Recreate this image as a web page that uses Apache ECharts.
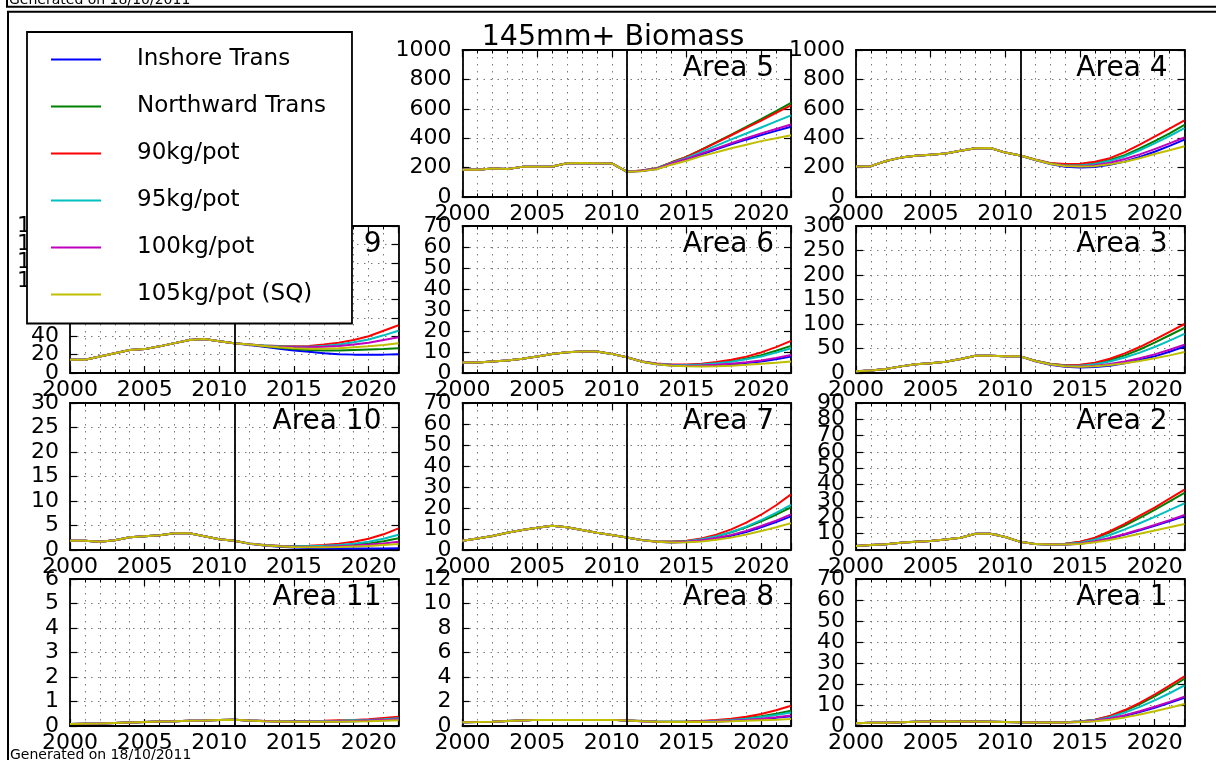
<!DOCTYPE html>
<html>
<head>
<meta charset="utf-8">
<title>145mm+ Biomass</title>
<script src="https://cdn.jsdelivr.net/npm/echarts@6/dist/echarts.min.js"></script>
<style>
  html, body { margin: 0; padding: 0; background: #ffffff; }
  #chart { width: 1216px; height: 760px; }
</style>
</head>
<body>
<div id="chart"></div>
<script>
// ---- data -------------------------------------------------------------
const years = [2000, 2001, 2002, 2003, 2004, 2005, 2006, 2007, 2008, 2009, 2010, 2011,
               2012, 2013, 2014, 2015, 2016, 2017, 2018, 2019, 2020, 2021, 2022];
const projectionStart = 2011;
const xTickLabels = [2000, 2005, 2010, 2015, 2020];

const seriesNames = ['Inshore Trans', 'Northward Trans', '90kg/pot', '95kg/pot', '100kg/pot', '105kg/pot (SQ)'];
const seriesColors = ['#0000ff', '#008000', '#ff0000', '#00bfbf', '#bf00bf', '#bfbf00'];

// Assessed biomass 2000-2011 (shared by every scenario)
// Projections 2012-2022, one row per scenario in seriesNames order
const area5Hist = [185, 186, 194, 190, 205, 206, 208, 230, 231, 230, 228, 172];
const area5Proj = [
  [177, 190, 224, 253, 289, 324, 358, 390, 421, 450, 478],
  [180, 196, 236, 273, 322, 373, 425, 477, 530, 585, 640],
  [180, 195, 235, 272, 320, 370, 420, 470, 520, 572, 623],
  [179, 194, 232, 265, 307, 350, 392, 432, 473, 514, 555],
  [178, 192, 228, 258, 295, 331, 366, 400, 433, 463, 493],
  [176, 189, 220, 247, 278, 305, 332, 356, 380, 400, 420]
];

const area4Hist = [208, 210, 245, 268, 280, 288, 296, 314, 332, 333, 302, 282];
const area4Proj = [
  [252, 224, 206, 200, 204, 219, 242, 272, 308, 348, 390],
  [254, 229, 217, 217, 228, 252, 285, 330, 380, 433, 490],
  [255, 232, 224, 227, 240, 264, 305, 357, 410, 465, 522],
  [254, 228, 215, 214, 224, 246, 276, 318, 365, 415, 468],
  [253, 227, 212, 209, 216, 233, 258, 290, 326, 365, 405],
  [253, 226, 211, 207, 210, 222, 240, 264, 292, 318, 345]
];

const area9Hist = [14.5, 14.5, 18, 21.5, 25, 26, 29, 32.5, 36, 37, 34.5, 32.5];
const area9Proj = [
  [30.5, 28.5, 26.5, 24.5, 23, 21.5, 20.5, 20, 20, 20, 20.5],
  [31, 29, 27.5, 26, 25, 24.5, 24.5, 25, 25.5, 26, 27],
  [31, 30, 29.5, 29, 29.5, 31, 33, 36, 40, 46, 52],
  [31, 30, 29, 28.5, 28.5, 29.5, 31, 33.5, 36.5, 41, 46],
  [31, 29.5, 28.5, 28, 28, 28.5, 29.5, 31, 33, 36, 39],
  [31, 29.5, 28, 27, 26.5, 26.5, 27, 28, 29, 30.5, 32.5]
];

const area6Hist = [5.0, 5.0, 5.5, 6.0, 6.8, 7.9, 9.1, 9.9, 10.2, 10.2, 9.1, 7.5];
const area6Proj = [
  [5.4, 4.2, 3.6, 3.4, 3.4, 3.7, 4.1, 4.7, 5.5, 6.5, 7.8],
  [5.5, 4.4, 3.9, 3.8, 4.1, 4.7, 5.6, 6.9, 8.5, 10.6, 12.9],
  [5.5, 4.5, 4.0, 4.0, 4.4, 5.2, 6.3, 7.8, 9.8, 12.3, 15.3],
  [5.5, 4.4, 3.9, 3.8, 4.0, 4.6, 5.4, 6.5, 7.9, 9.7, 11.8],
  [5.5, 4.3, 3.7, 3.5, 3.6, 3.9, 4.4, 5.1, 6.0, 7.2, 8.6],
  [5.4, 4.2, 3.5, 3.2, 3.1, 3.2, 3.5, 3.9, 4.4, 4.9, 5.5]
];

const area3Hist = [3.5, 5, 8, 13.5, 18, 20, 23, 28.5, 35, 35, 34, 34];
const area3Proj = [
  [24, 17, 12.5, 11, 12, 15, 20, 26.5, 34, 43.5, 54],
  [25, 19, 15.5, 16, 19.5, 26.5, 36, 48, 62, 77, 92],
  [25, 19, 16, 17, 21, 29, 40, 53, 68, 84, 100],
  [25, 18.5, 15, 15, 18, 23.5, 31.5, 41.5, 53, 66, 80],
  [24.5, 18, 14, 13.5, 15, 18.5, 23.5, 30, 38, 47.5, 58],
  [24.5, 18, 14, 13, 14, 16.5, 20, 24.5, 30, 36, 43]
];

const area10Hist = [1.9, 1.9, 1.7, 2.0, 2.6, 2.8, 3.0, 3.4, 3.4, 2.8, 2.2, 1.9];
const area10Proj = [
  [1.25, 0.9, 0.65, 0.5, 0.4, 0.35, 0.3, 0.3, 0.3, 0.3, 0.35],
  [1.3, 0.95, 0.75, 0.65, 0.65, 0.7, 0.85, 1.05, 1.35, 1.8, 2.4],
  [1.35, 1.0, 0.85, 0.8, 0.85, 1.0, 1.3, 1.7, 2.3, 3.2, 4.4],
  [1.35, 1.0, 0.8, 0.75, 0.75, 0.85, 1.0, 1.3, 1.7, 2.3, 3.1],
  [1.3, 0.95, 0.75, 0.65, 0.6, 0.65, 0.75, 0.9, 1.1, 1.35, 1.7],
  [1.3, 0.95, 0.75, 0.6, 0.55, 0.55, 0.6, 0.7, 0.8, 1.0, 1.2]
];

const area7Hist = [4.4, 5.5, 6.7, 8.2, 9.5, 10.6, 11.6, 10.8, 9.5, 8.2, 7.1, 5.9];
const area7Proj = [
  [4.7, 3.9, 3.6, 3.8, 4.4, 5.4, 6.8, 8.6, 10.8, 13.3, 16],
  [4.8, 4.0, 3.9, 4.2, 5.1, 6.5, 8.4, 10.8, 13.6, 16.8, 20.3],
  [4.8, 4.1, 4.0, 4.4, 5.5, 7.3, 9.8, 13, 16.8, 21.3, 26.5],
  [4.8, 4.0, 3.9, 4.2, 5.1, 6.6, 8.6, 11.1, 14.2, 17.7, 21.5],
  [4.7, 3.9, 3.7, 3.9, 4.6, 5.7, 7.2, 9.1, 11.4, 14.0, 17],
  [4.7, 3.9, 3.6, 3.7, 4.1, 4.9, 6.0, 7.4, 9.0, 10.8, 12.8]
];

const area2Hist = [2.5, 3, 3.5, 4.5, 5, 5.5, 6.5, 7.5, 10, 10, 8, 5];
const area2Proj = [
  [3.6, 3.2, 3.2, 3.8, 5.1, 7.0, 9.4, 12.0, 14.8, 17.8, 20.8],
  [3.7, 3.5, 3.8, 4.9, 7.2, 10.8, 15, 19.7, 24.6, 29.7, 35],
  [3.7, 3.5, 3.8, 5, 7.5, 11.5, 16, 21, 26, 31.5, 37],
  [3.7, 3.4, 3.6, 4.5, 6.4, 9.2, 12.6, 16.4, 20.3, 24.4, 28.5],
  [3.6, 3.3, 3.4, 4.0, 5.4, 7.4, 9.8, 12.5, 15.3, 18.3, 21.4],
  [3.6, 3.3, 3.3, 3.7, 4.7, 6.1, 7.9, 9.9, 11.9, 13.9, 15.9]
];

const area11Hist = [0.08, 0.09, 0.1, 0.12, 0.14, 0.16, 0.18, 0.19, 0.21, 0.22, 0.24, 0.26];
const area11Proj = [
  [0.22, 0.19, 0.18, 0.17, 0.17, 0.17, 0.18, 0.19, 0.21, 0.23, 0.26],
  [0.22, 0.2, 0.19, 0.18, 0.18, 0.19, 0.2, 0.22, 0.24, 0.27, 0.3],
  [0.22, 0.2, 0.19, 0.19, 0.2, 0.21, 0.23, 0.25, 0.28, 0.33, 0.38],
  [0.22, 0.2, 0.19, 0.19, 0.19, 0.2, 0.21, 0.23, 0.25, 0.28, 0.32],
  [0.22, 0.2, 0.18, 0.18, 0.18, 0.18, 0.19, 0.2, 0.22, 0.25, 0.28],
  [0.22, 0.19, 0.18, 0.17, 0.17, 0.17, 0.17, 0.18, 0.19, 0.21, 0.23]
];

const area8Hist = [0.3, 0.32, 0.35, 0.4, 0.45, 0.5, 0.5, 0.5, 0.5, 0.5, 0.5, 0.45];
const area8Proj = [
  [0.39, 0.35, 0.32, 0.32, 0.33, 0.36, 0.41, 0.48, 0.56, 0.67, 0.8],
  [0.4, 0.36, 0.34, 0.35, 0.38, 0.44, 0.53, 0.65, 0.8, 1.0, 1.25],
  [0.4, 0.37, 0.35, 0.36, 0.4, 0.48, 0.6, 0.76, 0.98, 1.28, 1.65],
  [0.4, 0.36, 0.34, 0.34, 0.37, 0.42, 0.5, 0.6, 0.73, 0.9, 1.1],
  [0.39, 0.35, 0.33, 0.33, 0.35, 0.38, 0.43, 0.5, 0.59, 0.71, 0.85],
  [0.39, 0.35, 0.33, 0.32, 0.33, 0.35, 0.38, 0.42, 0.47, 0.52, 0.58]
];

const area1Hist = [1.3, 1.5, 1.6, 1.8, 2.0, 2.2, 2.3, 2.2, 2.1, 2.0, 1.9, 1.8];
const area1Proj = [
  [1.7, 1.7, 1.7, 1.9, 2.4, 3.4, 4.8, 6.6, 8.7, 11.0, 13.4],
  [1.7, 1.7, 1.8, 2.2, 3.0, 4.6, 7.2, 10.4, 14.1, 18.2, 22.5],
  [1.7, 1.7, 1.8, 2.2, 3.0, 4.8, 7.6, 11.0, 15.0, 19.2, 23.6],
  [1.7, 1.7, 1.8, 2.1, 2.8, 4.2, 6.4, 9.1, 12.2, 15.6, 19.3],
  [1.7, 1.7, 1.7, 2.0, 2.6, 3.6, 5.1, 7.0, 9.2, 11.5, 14],
  [1.7, 1.7, 1.7, 1.9, 2.3, 3.0, 4.1, 5.5, 7.0, 8.7, 10.5]
];

// ---- panel layout (4 rows x 3 columns, top-left cell holds the legend) ----
const panels = [
  { label: 'Area 5',  row: 0, col: 1, hist: area5Hist,  proj: area5Proj,  yMax: 1000, yStep: 200 },
  { label: 'Area 4',  row: 0, col: 2, hist: area4Hist,  proj: area4Proj,  yMax: 1000, yStep: 200 },
  { label: 'Area 9',  row: 1, col: 0, hist: area9Hist,  proj: area9Proj,  yMax: 160,  yStep: 20 },
  { label: 'Area 6',  row: 1, col: 1, hist: area6Hist,  proj: area6Proj,  yMax: 70,   yStep: 10 },
  { label: 'Area 3',  row: 1, col: 2, hist: area3Hist,  proj: area3Proj,  yMax: 300,  yStep: 50 },
  { label: 'Area 10', row: 2, col: 0, hist: area10Hist, proj: area10Proj, yMax: 30,   yStep: 5 },
  { label: 'Area 7',  row: 2, col: 1, hist: area7Hist,  proj: area7Proj,  yMax: 70,   yStep: 10 },
  { label: 'Area 2',  row: 2, col: 2, hist: area2Hist,  proj: area2Proj,  yMax: 90,   yStep: 10 },
  { label: 'Area 11', row: 3, col: 0, hist: area11Hist, proj: area11Proj, yMax: 6,    yStep: 1 },
  { label: 'Area 8',  row: 3, col: 1, hist: area8Hist,  proj: area8Proj,  yMax: 12,   yStep: 2 },
  { label: 'Area 1',  row: 3, col: 2, hist: area1Hist,  proj: area1Proj,  yMax: 70,   yStep: 10 }
];

const FONT = 'DejaVu Sans';
const colLeft = [70, 462.5, 856];
const rowTop = [50, 226, 403, 579];
const plotW = 328.5;
const plotH = 147;

const frameLine = { color: '#000', width: 1.8 };
const dotted = { color: '#7a7a7a', width: 1, type: [1.5, 5.5] };
const tickLine = { color: '#000', width: 1.2 };

const grids = [], xAxes = [], yAxes = [], series = [], graphics = [];

// every step of the value scale, as the text printed beside it
function stepLabels(max, step) {
  const out = [];
  for (let v = 0; v <= max + 1e-9; v += step) out.push(String(v));
  return out;
}

panels.forEach((p, i) => {
  const left = colLeft[p.col];
  const top = rowTop[p.row];
  grids.push({ left: left, top: top, width: plotW, height: plotH, containLabel: false, outerBoundsMode: 'none' });

  const xCommon = {
    type: 'value', gridIndex: i, min: years[0], max: years[years.length - 1], interval: 5,
    axisLine: { show: true, onZero: false, lineStyle: frameLine },
    axisTick: { show: true, inside: true, length: 7, lineStyle: tickLine },
    minorTick: { show: true, splitNumber: 5, length: 3.5, lineStyle: { color: '#000', width: 1 } }
  };
  // bottom axis carries the year labels and the yearly vertical grid
  xAxes.push(Object.assign({}, xCommon, {
    position: 'bottom',
    axisLabel: {
      show: true, interval: 0, color: '#000', fontFamily: FONT, fontSize: 22, lineHeight: 14, margin: 10,
      formatter: v => (xTickLabels.indexOf(v) >= 0 ? String(v) : '')
    },
    splitLine: { show: true, lineStyle: dotted },
    minorSplitLine: { show: true, lineStyle: dotted }
  }));
  // top axis: frame and ticks only
  xAxes.push(Object.assign({}, xCommon, {
    position: 'top',
    axisLabel: { show: false },
    splitLine: { show: false },
    minorSplitLine: { show: false }
  }));

  const yCommon = {
    type: 'value', gridIndex: i, min: 0, max: p.yMax, interval: p.yStep,
    axisLine: { show: true, onZero: false, lineStyle: frameLine },
    axisTick: { show: true, inside: true, length: 7, lineStyle: tickLine },
    axisLabel: { show: false }
  };
  // value scale used by the lines: left frame, ticks, horizontal grid
  yAxes.push(Object.assign({}, yCommon, {
    position: 'left',
    splitLine: { show: true, lineStyle: dotted }
  }));
  // right frame with ticks
  yAxes.push(Object.assign({}, yCommon, {
    position: 'right',
    splitLine: { show: false }
  }));
  // label track on the left: one entry per value step, every entry printed
  yAxes.push({
    type: 'category', gridIndex: i, position: 'left', boundaryGap: false,
    data: stepLabels(p.yMax, p.yStep),
    axisLine: { show: false }, axisTick: { show: false }, splitLine: { show: false },
    axisLabel: { show: true, interval: 0, color: '#000', fontFamily: FONT, fontSize: 22, margin: 11 }
  });

  seriesNames.forEach((name, s) => {
    const values = p.hist.concat(p.proj[s]);
    const item = {
      type: 'line', name: name, xAxisIndex: 2 * i, yAxisIndex: 3 * i,
      data: years.map((yr, k) => [yr, values[k]]),
      showSymbol: false, symbol: 'none',
      lineStyle: { color: seriesColors[s], width: 2 },
      itemStyle: { color: seriesColors[s] },
      silent: true, z: 3
    };
    if (s === 0) {
      item.markLine = {
        silent: true, symbol: ['none', 'none'], label: { show: false },
        lineStyle: { color: '#000', width: 1.8, type: 'solid' },
        data: [{ xAxis: projectionStart }]
      };
    }
    series.push(item);
  });

  graphics.push({
    type: 'text', x: left + plotW - 17, y: top + 19, z: 10,
    style: { text: p.label, font: '28px "DejaVu Sans"', fill: '#000', align: 'right', verticalAlign: 'middle' }
  });
});

// figure title and page furniture
graphics.push({
  type: 'text', x: 613, y: 38, z: 10,
  style: { text: '145mm+ Biomass', font: '28.5px "DejaVu Sans"', fill: '#000', align: 'center', verticalAlign: 'middle' }
});
graphics.push({
  type: 'text', x: 9, y: 7, z: 10,
  style: { text: 'Generated on 18/10/2011', font: '14px "DejaVu Sans"', fill: '#000', align: 'left', verticalAlign: 'bottom' }
});
graphics.push({
  type: 'text', x: 10, y: 748, z: 10,
  style: { text: 'Generated on 18/10/2011', font: '14px "DejaVu Sans"', fill: '#000', align: 'left', verticalAlign: 'top' }
});
graphics.push({
  type: 'polyline', z: 10,
  shape: { points: [[7, 0], [7, 6.7], [1216, 6.7]] },
  style: { stroke: '#000', lineWidth: 2, fill: null }
});
graphics.push({
  type: 'polyline', z: 10,
  shape: { points: [[8, 760], [8, 11.7], [1216, 11.7]] },
  style: { stroke: '#000', lineWidth: 2, fill: null }
});

const chart = echarts.init(document.getElementById('chart'), null, { renderer: 'canvas' });
chart.setOption({
  animation: false,
  backgroundColor: '#ffffff',
  textStyle: { fontFamily: FONT },
  grid: grids,
  xAxis: xAxes,
  yAxis: yAxes,
  series: series,
  graphic: graphics,
  legend: {
    data: seriesNames,
    orient: 'vertical',
    left: 27, top: 32,
    padding: [15.5, 26, 17, 24],
    itemWidth: 50, itemHeight: 2, itemGap: 23,
    icon: 'rect',
    selectedMode: false,
    backgroundColor: '#ffffff',
    borderColor: '#000', borderWidth: 1.8, borderRadius: 0,
    textStyle: { fontFamily: FONT, fontSize: 23, color: '#000', lineHeight: 24, padding: [0, 0, 0, 31] },
    z: 50
  }
});
</script>
</body>
</html>
